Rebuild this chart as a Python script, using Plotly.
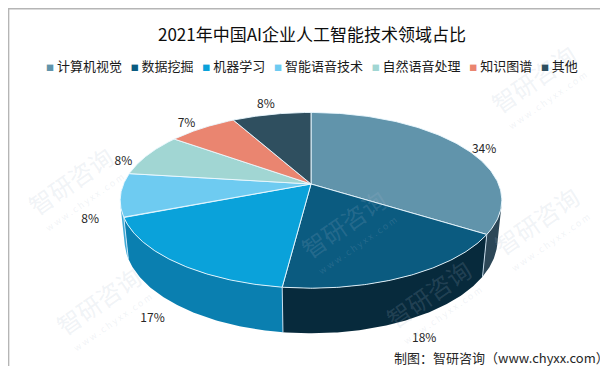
import numpy as np
import plotly.graph_objects as go

# ---------------- data ----------------
categories = ["计算机视觉", "数据挖掘", "机器学习", "智能语音技术", "自然语音处理", "知识图谱", "其他"]
shares = [34, 18, 17, 8, 8, 7, 8]
label_texts = [f"{v}%" for v in shares]

title_text = "2021年中国AI企业人工智能技术领域占比"
source_text = "制图：智研咨询（www.chyxx.com）"

# ---------------- style ----------------
top_colors = ["#6194ab", "#0b5b80", "#0aa2da", "#6ecbf1", "#a1d6d3", "#ea8570", "#2f4f5f"]
side_colors = ["#2c4757", "#072a3c", "#0a7fb0", "#3fa9d5", "#7fb5b2", "#b6604e", "#1f3440"]

W, H = 608, 366
CX, CY = 303, 176          # projected centre of the pie top
K = 900                    # projection scale
DIST = 4.80                # camera distance (in pie radii)
ELEV = np.radians(26.9)    # view elevation
THICK = 0.24               # pie thickness (in pie radii)
S, C = np.sin(ELEV), np.cos(ELEV)


def project(x, y, z):
    Y = y * C - z * S
    depth = DIST - y * S - z * C
    return CX + K * x / depth, CY - K * Y / depth


def rim(theta, r=1.0, h=0.0):
    return project(r * np.sin(theta), h, -r * np.cos(theta))


total = float(sum(shares))
cum = np.concatenate([[0], np.cumsum(shares)]) / total * 2 * np.pi

# visible range of outer wall (normal facing the camera)
lim = np.arccos(-1.0 / (DIST * C))
vis_lo, vis_hi = lim, 2 * np.pi - lim

fig = go.Figure()

# ---- outer walls ----
walls = []
for i in range(len(shares)):
    a0, a1 = max(cum[i], vis_lo), min(cum[i + 1], vis_hi)
    if a1 <= a0:
        continue
    walls.append((i, a0, a1))
walls.sort(key=lambda w: -abs(((w[1] + w[2]) / 2) - np.pi))
for i, a0, a1 in walls:
    th = np.linspace(a0, a1, 80)
    xt, yt = rim(th)
    xb, yb = rim(th[::-1], h=-THICK)
    fig.add_trace(go.Scatter(
        x=np.concatenate([xt, xb, xt[:1]]), y=np.concatenate([yt, yb, yt[:1]]),
        mode="lines", fill="toself", fillcolor=side_colors[i],
        line=dict(width=0, color=side_colors[i]), hoverinfo="skip", showlegend=False))

# seams on the wall at slice boundaries
for b in cum[1:-1]:
    if vis_lo < b < vis_hi:
        x0, y0 = rim(b)
        x1, y1 = rim(b, h=-THICK)
        fig.add_trace(go.Scatter(x=[x0, x1], y=[y0, y1], mode="lines",
                                 line=dict(color="rgba(220,240,255,0.85)", width=1),
                                 hoverinfo="skip", showlegend=False))

# ---- top faces ----
for i in range(len(shares)):
    th = np.linspace(cum[i], cum[i + 1], 120)
    xa, ya = rim(th)
    ox, oy = project(0, 0, 0)
    fig.add_trace(go.Scatter(
        x=np.concatenate([[ox], xa, [ox]]), y=np.concatenate([[oy], ya, [oy]]),
        mode="lines", fill="toself", fillcolor=top_colors[i],
        line=dict(width=1, color="rgba(235,248,255,0.9)"),
        name=categories[i], hoverinfo="skip", showlegend=False))

# ---- watermarks ----
wm = [(62, 172), (525, 70), (335, 215), (90, 292), (528, 212), (420, 285)]
for (wx, wy) in wm:
    fig.add_annotation(x=wx, y=wy, xref="x", yref="y", text="智研咨询", showarrow=False,
                       textangle=-35, font=dict(family="Noto Sans CJK SC", size=24,
                                                color="rgba(170,185,205,0.18)"))
    fig.add_annotation(x=wx + 14, y=wy + 22, xref="x", yref="y", text="w w w . c h y x x . c o m",
                       showarrow=False, textangle=-35,
                       font=dict(family="Noto Sans CJK SC", size=9, color="rgba(170,185,205,0.18)"))

# ---- percentage labels ----
mids = (cum[:-1] + cum[1:]) / 2
lx, ly = rim(mids, r=1.17, h=-THICK * (1 - np.cos(mids)) / 2)
fig.add_trace(go.Scatter(x=lx, y=ly, mode="text", text=label_texts,
                         textfont=dict(family="Noto Sans CJK SC", size=12, color="#262626"),
                         hoverinfo="skip", showlegend=False))

# ---- legend (as rich text) ----
sep = "\u00a0\u00a0\u00a0"
parts = []
for name, col in zip(categories, top_colors):
    parts.append(f"<span style='color:{col};font-size:8px'>■</span>\u00a0{name}")
fig.add_annotation(x=0.5, y=57, xref="paper", yref="y", text=sep.join(parts), showarrow=False,
                   font=dict(family="Noto Sans CJK SC", size=13, color="#1a1a1a"))

fig.add_annotation(x=0.5, y=25, xref="paper", yref="y", text=title_text, showarrow=False,
                   font=dict(family="Noto Sans CJK SC", size=17, color="#0d0d0d"))
fig.add_annotation(x=602, y=349, xref="x", yref="y", text=source_text, showarrow=False,
                   xanchor="right", borderpad=0,
                   font=dict(family="Noto Sans CJK SC", size=13, color="#262626"))

fig.add_shape(type="rect", xref="paper", yref="paper", x0=0.001, y0=0.002, x1=0.999, y1=0.998,
              line=dict(color="#b5b5b5", width=1.5))

fig.update_layout(
    width=W, height=H, autosize=False,
    margin=dict(l=0, r=0, t=0, b=0),
    paper_bgcolor="white", plot_bgcolor="white",
    xaxis=dict(range=[0, W], visible=False, fixedrange=True),
    yaxis=dict(range=[H, 0], visible=False, fixedrange=True),
    showlegend=False,
)
fig.write_html("out.html")
